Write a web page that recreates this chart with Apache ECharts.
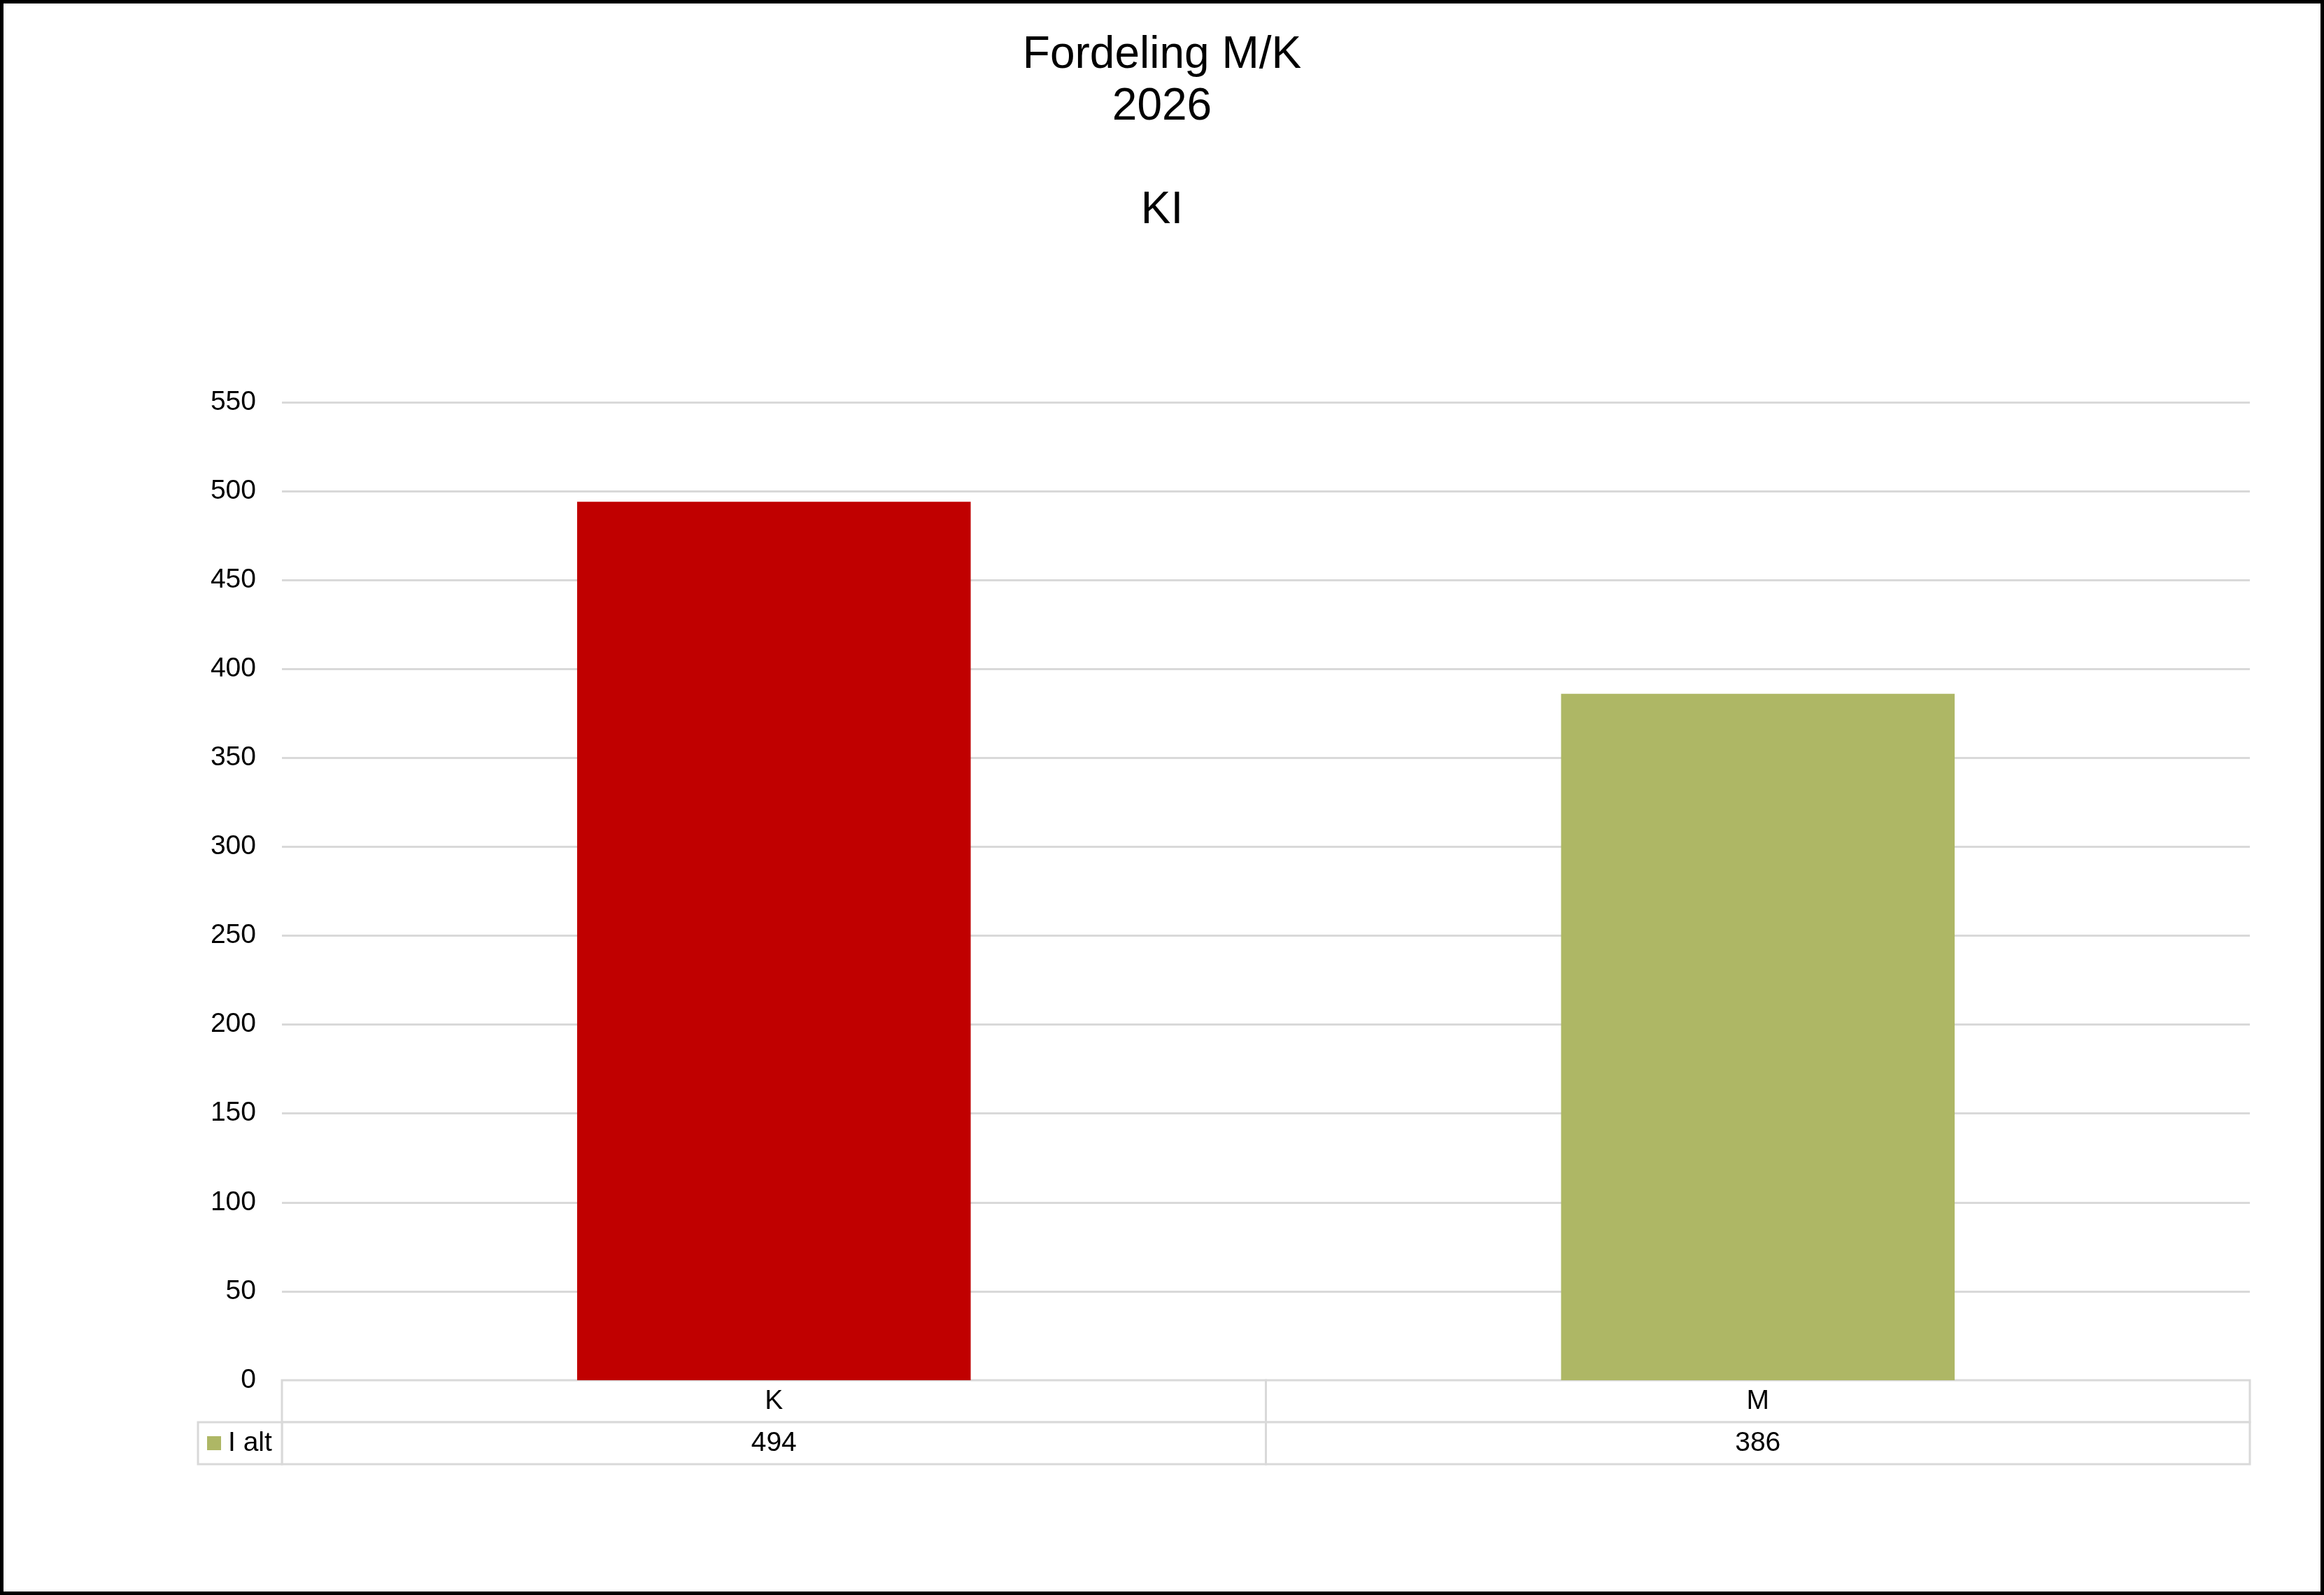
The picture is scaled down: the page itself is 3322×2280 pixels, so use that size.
<!DOCTYPE html>
<html>
<head>
<meta charset="utf-8">
<script src="https://cdn.jsdelivr.net/npm/echarts@6/dist/echarts.min.js"></script>
<style>
  html, body { margin: 0; padding: 0; background: #fff; }
  #chart { position: absolute; left: 0; top: 0; width: 3322px; height: 2280px; }
  #frame { position: absolute; left: 0; top: 0; width: 3322px; height: 2280px; box-sizing: border-box; border: 5px solid #000; pointer-events: none; }
</style>
</head>
<body>
<div id="chart"></div>
<div id="frame"></div>
<script>
// ---- data ----
const titleLines = ['Fordeling M/K', '2026', '', 'KI'];
const categories = ['K', 'M'];
const seriesName = 'I alt';
const values = [494, 386];
const yTicks = { min: 0, max: 550, interval: 50 };

// ---- styles ----
const barColors = ['#c00000', '#aeb765'];
const seriesColor = '#aeb765';
const gridColor = '#d9d9d9';
const FONT = 'Liberation Sans, Arial, sans-serif';
const fs = 39;

// table cells: [xIndex, rowIndex]; row 0 = category names, row 1 = values
const tableCells = [];
const tableTexts = [];
categories.forEach((c, i) => { tableCells.push([i, 0]); tableTexts.push(c); });
values.forEach((v, i) => { tableCells.push([i, 1]); tableTexts.push(String(v)); });

const chart = echarts.init(document.getElementById('chart'), null, { renderer: 'canvas' });
chart.setOption({
  animation: false,
  backgroundColor: '#ffffff',
  title: {
    text: titleLines.join('\n'),
    left: 'center',
    top: 37,
    textStyle: { fontFamily: FONT, fontSize: 64, fontWeight: 'normal', color: '#000', lineHeight: 74 }
  },
  grid: [
    { left: 403, right: 106, top: 575, bottom: 307 },
    { left: 403, right: 106, top: 1973, height: 120 }
  ],
  xAxis: [
    { type: 'category', gridIndex: 0, data: categories, axisLine: { show: false }, axisTick: { show: false }, axisLabel: { show: false } },
    { type: 'category', gridIndex: 1, data: categories, axisLine: { show: false }, axisTick: { show: false }, axisLabel: { show: false } }
  ],
  yAxis: [
    {
      type: 'value', gridIndex: 0, min: yTicks.min, max: yTicks.max, interval: yTicks.interval,
      axisLine: { show: false }, axisTick: { show: false },
      axisLabel: { fontFamily: FONT, fontSize: fs, color: '#000', margin: 37 },
      splitLine: { lineStyle: { color: gridColor, width: 3 } }
    },
    {
      type: 'category', gridIndex: 1, data: ['cat', seriesName], inverse: true,
      axisLine: { show: false }, axisTick: { show: false }, axisLabel: { show: false }, splitLine: { show: false }
    }
  ],
  series: [
    {
      name: seriesName, type: 'bar', xAxisIndex: 0, yAxisIndex: 0,
      barCategoryGap: '60%',
      data: values.map((v, i) => ({ value: v, itemStyle: { color: barColors[i] } })),
      itemStyle: { color: seriesColor }
    },
    {
      type: 'custom', xAxisIndex: 1, yAxisIndex: 1, silent: true,
      data: tableCells,
      renderItem: function (params, api) {
        const c = api.coord([api.value(0), api.value(1)]);
        const s = api.size([1, 1]);
        return {
          type: 'group',
          children: [
            { type: 'rect', shape: { x: c[0] - s[0] / 2, y: c[1] - s[1] / 2, width: s[0], height: s[1] },
              style: { fill: '#fff', stroke: gridColor, lineWidth: 3 } },
            { type: 'text', x: c[0], y: c[1],
              style: { text: tableTexts[params.dataIndex], align: 'center', verticalAlign: 'middle', font: fs + 'px ' + FONT, fill: '#000' } }
          ]
        };
      }
    },
    {
      type: 'custom', xAxisIndex: 1, yAxisIndex: 1, silent: true,
      data: [[0, 1]],
      renderItem: function (params, api) {
        const c = api.coord([api.value(0), api.value(1)]);
        const s = api.size([1, 1]);
        const right = c[0] - s[0] / 2;
        const w = 120;
        const top = c[1] - s[1] / 2;
        return {
          type: 'group',
          children: [
            { type: 'rect', shape: { x: right - w, y: top, width: w, height: s[1] },
              style: { fill: '#fff', stroke: gridColor, lineWidth: 3 } },
            { type: 'rect', shape: { x: right - w + 13, y: c[1] - 10, width: 20, height: 20 },
              style: { fill: seriesColor } },
            { type: 'text', x: right - w + 43, y: c[1],
              style: { text: seriesName, align: 'left', verticalAlign: 'middle', font: fs + 'px ' + FONT, fill: '#000' } }
          ]
        };
      }
    }
  ]
});
</script>
</body>
</html>
